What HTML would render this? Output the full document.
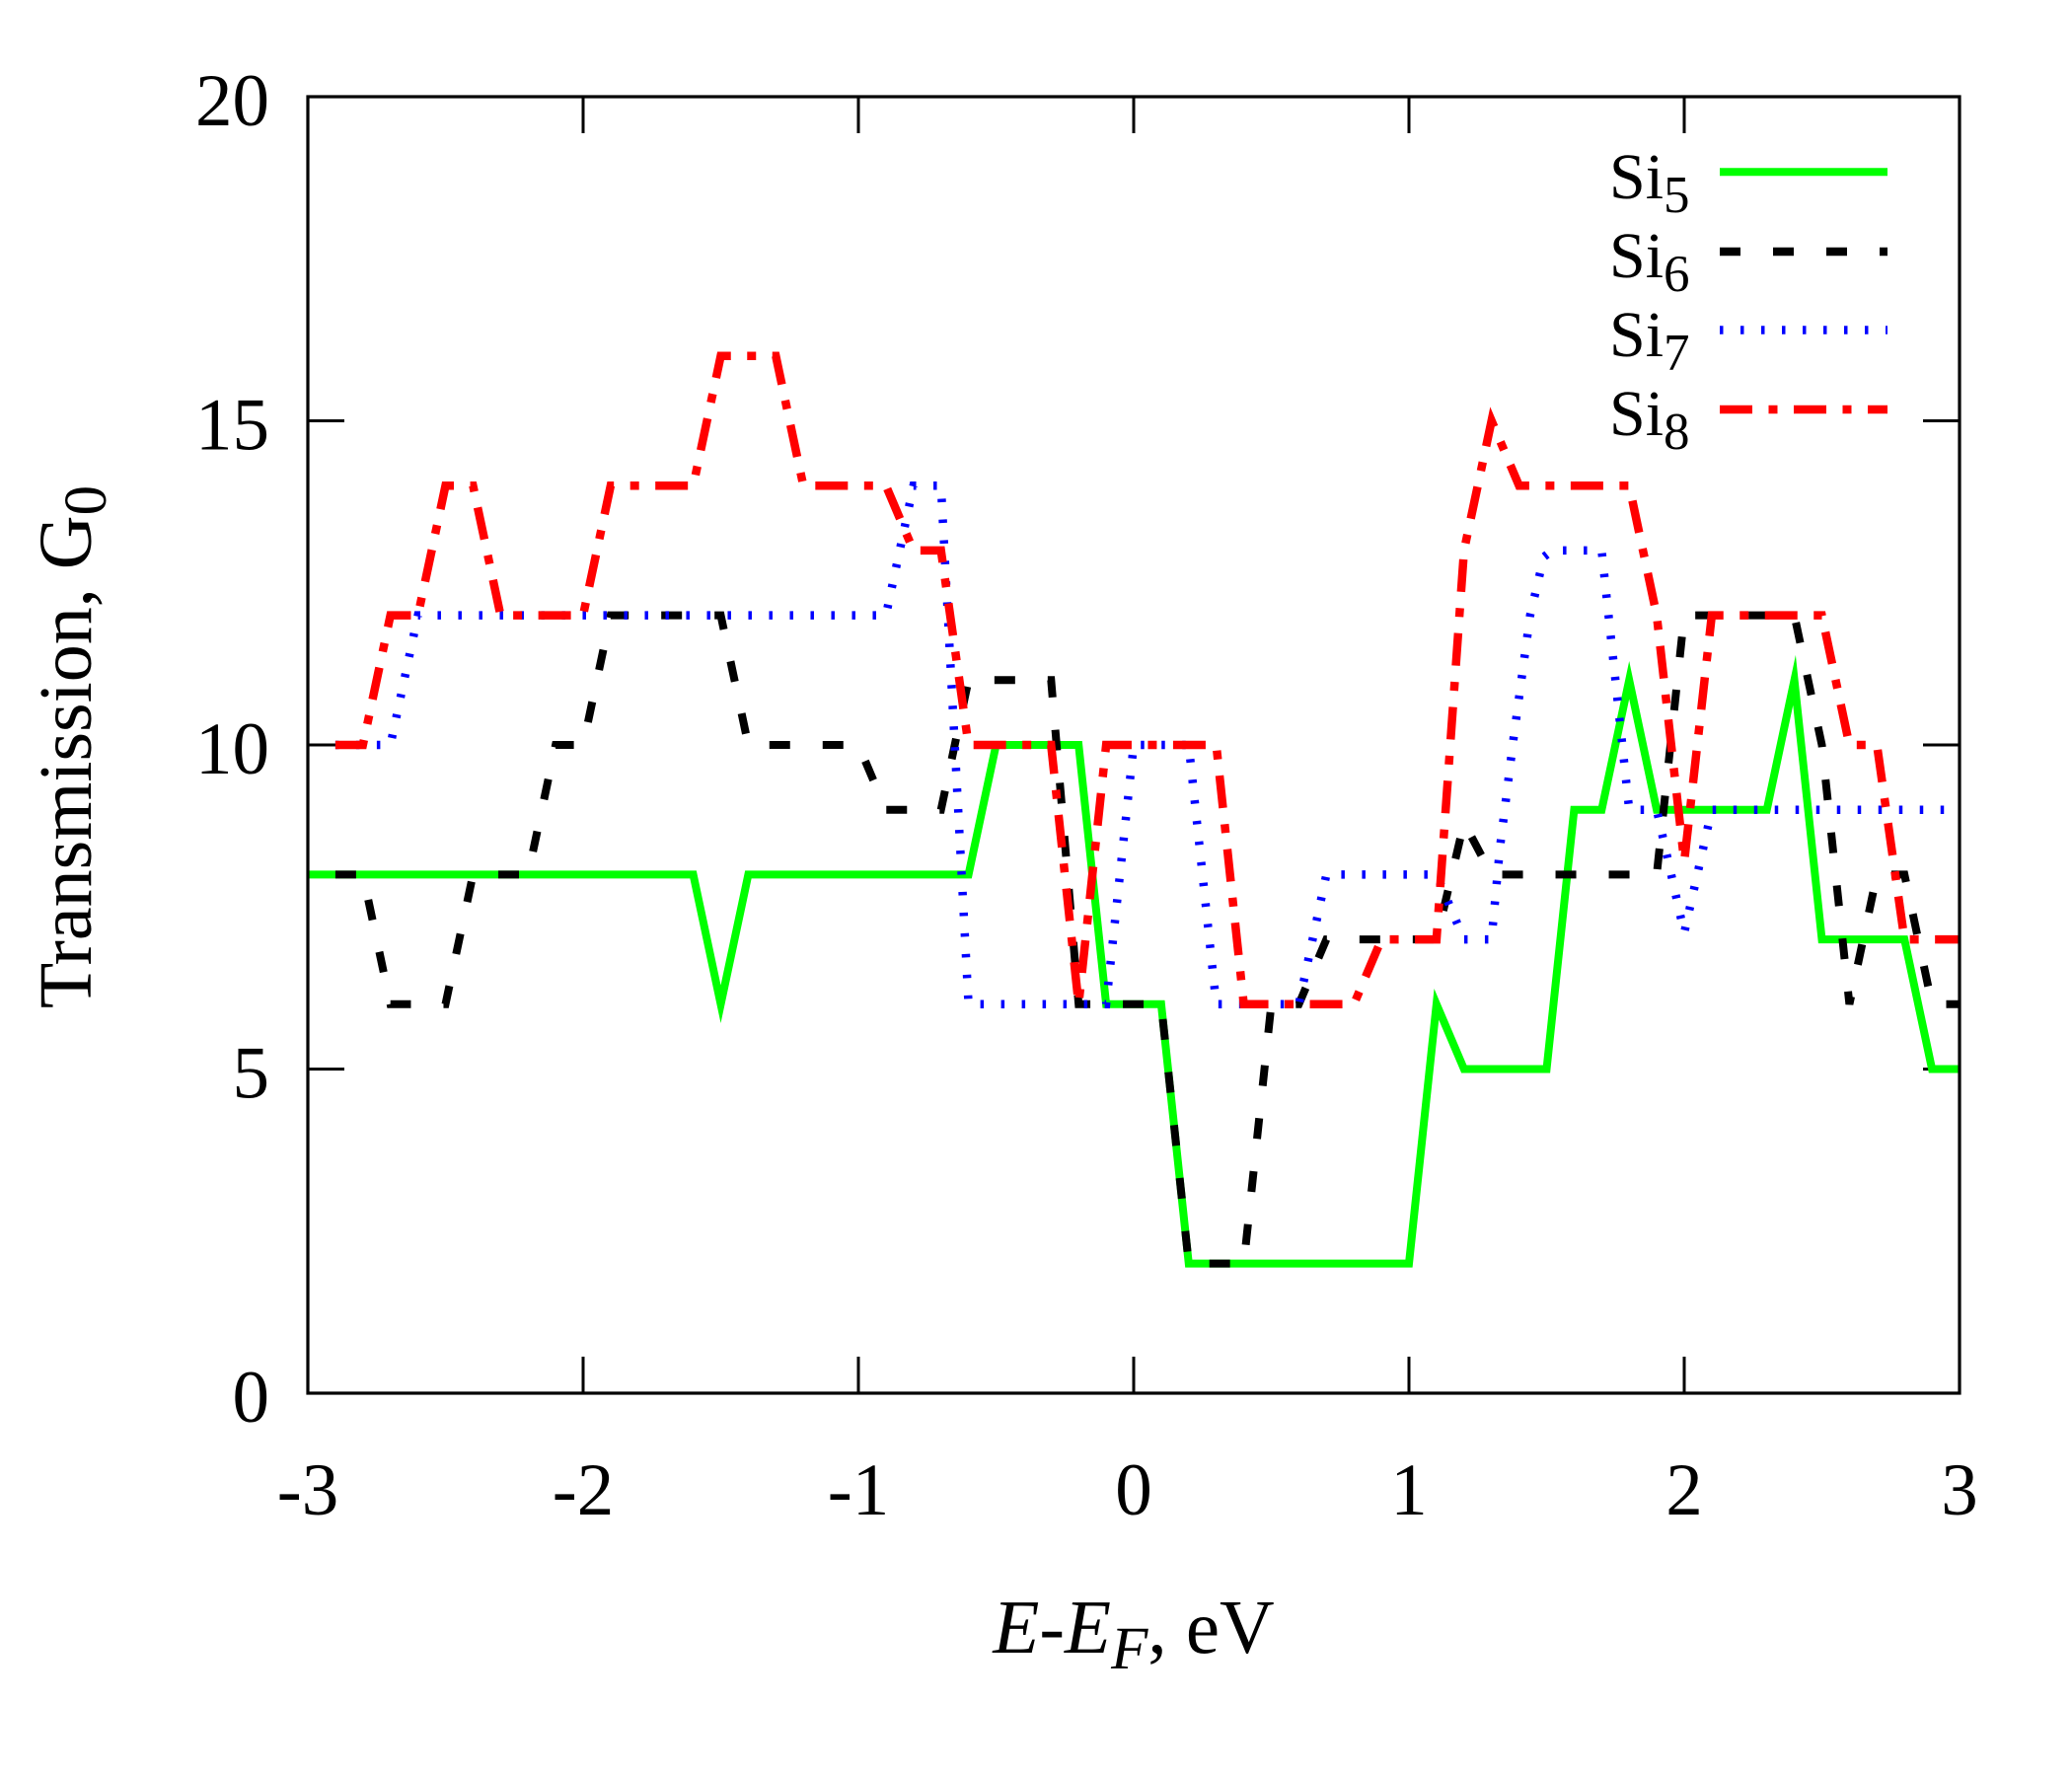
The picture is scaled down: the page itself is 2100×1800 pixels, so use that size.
<!DOCTYPE html>
<html>
<head>
<meta charset="utf-8">
<style>
html,body{margin:0;padding:0;background:#fff;}
svg{display:block;}
text{font-family:"Liberation Serif","Times New Roman",serif;fill:#000;}
</style>
</head>
<body>
<svg width="2100" height="1800" viewBox="0 0 2100 1800" xmlns="http://www.w3.org/2000/svg">
<rect x="0" y="0" width="2100" height="1800" fill="#fff"/>

<!-- ticks -->
<g stroke="#000" stroke-width="3" fill="none">
  <line x1="312" y1="426.5" x2="349" y2="426.5"/>
  <line x1="312" y1="755" x2="349" y2="755"/>
  <line x1="312" y1="1083.5" x2="349" y2="1083.5"/>
  <line x1="1949" y1="426.5" x2="1986" y2="426.5"/>
  <line x1="1949" y1="755" x2="1986" y2="755"/>
  <line x1="1949" y1="1083.5" x2="1986" y2="1083.5"/>
  <line x1="591" y1="1412" x2="591" y2="1375"/>
  <line x1="870" y1="1412" x2="870" y2="1375"/>
  <line x1="1149" y1="1412" x2="1149" y2="1375"/>
  <line x1="1428" y1="1412" x2="1428" y2="1375"/>
  <line x1="1707" y1="1412" x2="1707" y2="1375"/>
  <line x1="591" y1="98" x2="591" y2="135"/>
  <line x1="870" y1="98" x2="870" y2="135"/>
  <line x1="1149" y1="98" x2="1149" y2="135"/>
  <line x1="1428" y1="98" x2="1428" y2="135"/>
  <line x1="1707" y1="98" x2="1707" y2="135"/>
</g>

<!-- y tick labels -->
<g font-size="75" text-anchor="end">
  <text x="273" y="1441">0</text>
  <text x="273" y="1112.5">5</text>
  <text x="273" y="784">10</text>
  <text x="273" y="455.5">15</text>
  <text x="273" y="127">20</text>
</g>
<!-- x tick labels -->
<g font-size="75" text-anchor="middle">
  <text x="312" y="1535">-3</text>
  <text x="591" y="1535">-2</text>
  <text x="870" y="1535">-1</text>
  <text x="1149" y="1535">0</text>
  <text x="1428" y="1535">1</text>
  <text x="1707" y="1535">2</text>
  <text x="1986" y="1535">3</text>
</g>

<!-- axis labels -->
<text font-size="76" text-anchor="middle" transform="translate(92,757) rotate(-90)">Transmission, G<tspan font-size="61" dy="15">0</tspan></text>
<text font-size="77" x="1149" y="1675" text-anchor="middle"><tspan font-style="italic">E</tspan>-<tspan font-style="italic">E</tspan><tspan font-style="italic" font-size="61" dy="16">F</tspan><tspan dy="-16">, eV</tspan></text>

<!-- series -->
<g fill="none" stroke-linejoin="miter" stroke-miterlimit="10" stroke-linecap="butt">
  <polyline stroke="#00ff00" stroke-width="8" points="312,886.4 702.6,886.4 730.5,1017.8 758.4,886.4 981.6,886.4 1009.5,755 1093.2,755 1121.1,1017.8 1176.9,1017.8 1204.8,1280.6 1428,1280.6 1455.9,1017.8 1483.8,1083.5 1567.5,1083.5 1595.4,820.7 1623.3,820.7 1651.2,689.3 1679.1,820.7 1790.7,820.7 1818.6,689.3 1846.5,952.1 1930.2,952.1 1958.1,1083.5 1986,1083.5"/>
  <polyline stroke="#000000" stroke-width="8" stroke-miterlimit="2" stroke-dasharray="21 33" points="339.9,886.4 367.8,886.4 395.7,1017.8 451.5,1017.8 479.4,886.4 535.2,886.4 563.1,755 591,755 618.9,623.6 730.5,623.6 758.4,755 870,755 897.9,820.7 953.7,820.7 981.6,689.3 1065.3,689.3 1093.2,1017.8 1176.9,1017.8 1204.8,1280.6 1260.6,1280.6 1288.5,1017.8 1316.4,1017.8 1344.3,952.1 1455.9,952.1 1483.8,833.8 1511.7,886.4 1679.1,886.4 1707,623.6 1818.6,623.6 1846.5,755 1874.4,1017.8 1902.3,886.4 1930.2,886.4 1958.1,1017.8 1986,1017.8"/>
  <polyline stroke="#0000ff" stroke-width="8.5" stroke-dasharray="3.5 17.5" points="339.9,755 395.7,755 423.6,623.6 897.9,623.6 925.8,492.2 953.7,492.2 981.6,1017.8 1121.1,1017.8 1149,755 1204.8,755 1232.7,1017.8 1316.4,1017.8 1344.3,886.4 1455.9,886.4 1483.8,952.1 1511.7,952.1 1520.1,860.1 1534,748.4 1550.8,623.6 1564.7,564.5 1573.1,557.9 1623.3,557.9 1651.2,820.7 1679.1,820.7 1707,945.5 1734.9,820.7 1986,820.7"/>
  <polyline stroke="#ff0000" stroke-width="8.5" stroke-dasharray="33 16.5 9 16.5" points="339.9,755 367.8,755 395.7,623.6 423.6,623.6 451.5,492.2 479.4,492.2 507.3,623.6 591,623.6 618.9,492.2 702.6,492.2 730.5,360.8 786.3,360.8 814.2,492.2 897.9,492.2 925.8,557.9 953.7,557.9 981.6,755 1065.3,755 1093.2,1017.8 1121.1,755 1232.7,755 1260.6,1017.8 1372.2,1017.8 1400.1,952.1 1455.9,952.1 1483.8,557.9 1511.7,426.5 1539.6,492.2 1651.2,492.2 1679.1,623.6 1707,873.3 1734.9,623.6 1846.5,623.6 1874.4,755 1902.3,755 1930.2,952.1 1986,952.1"/>
</g>

<!-- legend -->
<g font-size="66">
  <text x="1631" y="201">Si<tspan font-size="53" dy="14">5</tspan></text>
  <text x="1631" y="281">Si<tspan font-size="53" dy="14">6</tspan></text>
  <text x="1631" y="361">Si<tspan font-size="53" dy="14">7</tspan></text>
  <text x="1631" y="441">Si<tspan font-size="53" dy="14">8</tspan></text>
</g>
<g fill="none" stroke-linecap="butt">
  <line x1="1743" y1="174.3" x2="1913" y2="174.3" stroke="#00ff00" stroke-width="8"/>
  <line x1="1743" y1="255" x2="1913" y2="255" stroke="#000000" stroke-width="8.5" stroke-dasharray="21 33"/>
  <line x1="1743" y1="334.5" x2="1913" y2="334.5" stroke="#0000ff" stroke-width="8.5" stroke-dasharray="3.5 17.5"/>
  <line x1="1743" y1="415" x2="1913" y2="415" stroke="#ff0000" stroke-width="8.5" stroke-dasharray="33 16.5 9 16.5"/>
</g>

<!-- border -->
<rect x="312" y="98" width="1674" height="1314" fill="none" stroke="#000" stroke-width="3.2"/>
</svg>
</body>
</html>
